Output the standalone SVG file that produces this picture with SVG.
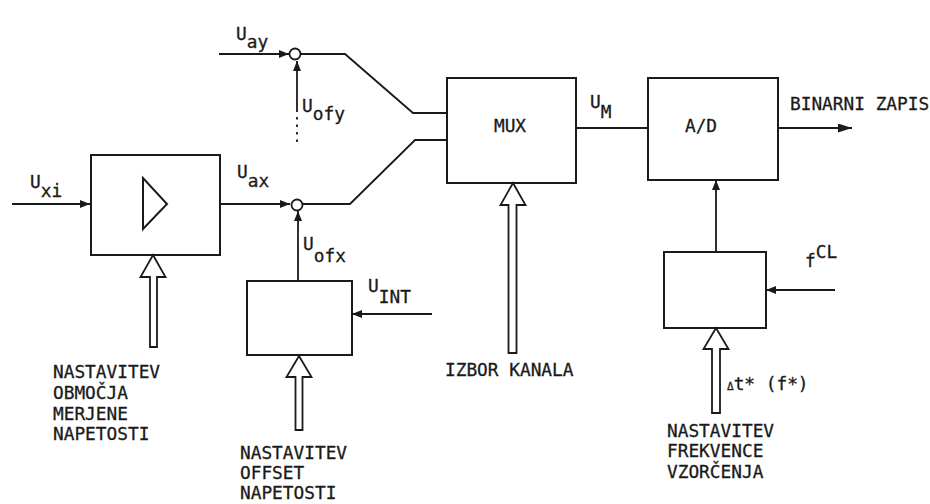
<svg xmlns="http://www.w3.org/2000/svg" width="930" height="504" viewBox="0 0 930 504">
<defs>
<style>
.box{fill:none;stroke:#1a1a1a;stroke-width:2}
.ln{fill:none;stroke:#1a1a1a;stroke-width:1.8}
.hol{fill:#fff;stroke:#1a1a1a;stroke-width:1.8;stroke-linejoin:miter}
.sum{fill:#fff;stroke:#1a1a1a;stroke-width:1.8}
text{font-family:"DejaVu Sans Mono","Liberation Mono",monospace;font-size:17.8px;fill:#1a1a1a;stroke:#1a1a1a;stroke-width:0.3}
</style>
<marker id="ah" viewBox="0 0 10 8" refX="10" refY="4" markerWidth="10" markerHeight="8" markerUnits="userSpaceOnUse" orient="auto">
<path d="M0,0 L10,4 L0,8 Z" fill="#1a1a1a"/>
</marker>
<marker id="ahb" viewBox="0 0 14 9" refX="14" refY="4.5" markerWidth="14" markerHeight="9" markerUnits="userSpaceOnUse" orient="auto">
<path d="M0,0 L14,4.5 L0,9 Z" fill="#1a1a1a"/>
</marker>
</defs>
<rect width="930" height="504" fill="#fff"/>

<g id="connectors">
<line class="ln" x1="12" y1="204" x2="90" y2="204" marker-end="url(#ah)"/>
<line class="ln" x1="220" y1="204" x2="290" y2="204" marker-end="url(#ah)"/>
<line class="ln" x1="219" y1="54" x2="289" y2="54" marker-end="url(#ah)"/>
<line class="ln" x1="297" y1="112" x2="297" y2="61" marker-end="url(#ah)"/>
<line class="ln" x1="297" y1="117" x2="297" y2="146" stroke-dasharray="2.5,5"/>
<polyline class="ln" points="301,54 345,54 413,113 447,113"/>
<polyline class="ln" points="303,204 350,204 415,140 447,140"/>
<line class="ln" x1="298" y1="281" x2="298" y2="211" marker-end="url(#ah)"/>
<line class="ln" x1="432" y1="314" x2="352" y2="314" marker-end="url(#ah)"/>
<line class="ln" x1="576" y1="128" x2="648" y2="128"/>
<line class="ln" x1="778" y1="128" x2="852" y2="128" marker-end="url(#ahb)"/>
<line class="ln" x1="716" y1="252" x2="716" y2="180" marker-end="url(#ah)"/>
<line class="ln" x1="835" y1="290" x2="766" y2="290" marker-end="url(#ah)"/>
<path class="hol" d="M153,255 L165.5,277 L157,277 L157,347 L150,347 L150,277 L140.5,277 Z"/>
<path class="hol" d="M299,356 L311.5,377 L302.5,377 L302.5,430 L295.5,430 L295.5,377 L286.5,377 Z"/>
<path class="hol" d="M513,183 L525.5,205 L516.5,205 L516.5,353 L508.5,353 L508.5,205 L500.5,205 Z"/>
<path class="hol" d="M716,328 L728.5,349 L720,349 L720,413 L712,413 L712,349 L703.5,349 Z"/>
</g>

<g id="sum_y"><circle class="sum" cx="295" cy="54" r="5.5"/></g>
<g id="sum_x"><circle class="sum" cx="297" cy="205" r="5.5"/></g>

<g id="amplifier">
<rect class="box" x="91" y="155" width="129" height="100"/>
<polygon class="box" points="143,178 143,229 167,204"/>
</g>

<g id="offset_box"><rect class="box" x="247" y="281" width="105" height="74"/></g>

<g id="mux">
<rect class="box" x="447" y="78" width="129" height="105"/>
<text x="510" y="132" text-anchor="middle">MUX</text>
</g>

<g id="adc">
<rect class="box" x="648" y="78" width="130" height="102"/>
<text x="701" y="132" text-anchor="middle">A/D</text>
</g>

<g id="clock_box"><rect class="box" x="664" y="252" width="102" height="76"/></g>

<g id="labels">
<text x="236" y="40">U<tspan dy="8">ay</tspan></text>
<text x="302" y="112">U<tspan dy="8">ofy</tspan></text>
<text x="30" y="188">U<tspan dy="9">xi</tspan></text>
<text x="237" y="178">U<tspan dy="9">ax</tspan></text>
<text x="303" y="250">U<tspan dy="12">ofx</tspan></text>
<text x="368" y="292">U<tspan dy="11">INT</tspan></text>
<text x="590" y="108">U<tspan dy="10">M</tspan></text>
<text x="805" y="267">f<tspan dy="-9">CL</tspan></text>
<text x="790" y="110">BINARNI ZAPIS</text>
<text x="727" y="390"><tspan font-size="11">Δ</tspan>t* (f*)</text>
<text x="445" y="376">IZBOR KANALA</text>
<text x="53" y="378">NASTAVITEV</text>
<text x="53" y="399">OBMOČJA</text>
<text x="53" y="420">MERJENE</text>
<text x="53" y="440">NAPETOSTI</text>
<text x="240" y="459">NASTAVITEV</text>
<text x="240" y="479">OFFSET</text>
<text x="240" y="499">NAPETOSTI</text>
<text x="667" y="437">NASTAVITEV</text>
<text x="667" y="457">FREKVENCE</text>
<text x="667" y="478">VZORČENJA</text>
</g>
</svg>
